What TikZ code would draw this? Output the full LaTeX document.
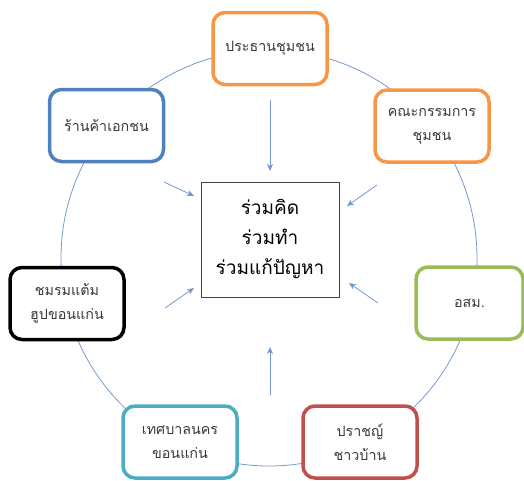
\documentclass[tikz,border=0pt]{standalone}
\usepackage{fontspec}
\newfontfamily\thaifont[Script=Thai]{Loma}
\usetikzlibrary{arrows.meta}
\definecolor{ringblue}{HTML}{7399CF}
\definecolor{presorange}{HTML}{F79646}
\definecolor{shopblue}{HTML}{4F81BD}
\definecolor{vhvgreen}{HTML}{9BBB59}
\definecolor{cityteal}{HTML}{4BACC6}
\definecolor{sagered}{HTML}{C0504D}
\definecolor{textgray}{HTML}{3A3A3A}
\begin{document}
\begin{tikzpicture}[x=1pt, y=-1pt, font=\thaifont\fontsize{14.3}{24}\selectfont]
            % กล่องสมาชิกรอบวง (ขอบมนสีต่าง ๆ)
            \tikzstyle{member}=[draw, rounded corners=12pt, line width=3.5pt, fill=white, text=textgray,
                                minimum width=114pt, minimum height=72pt, align=center, inner sep=2pt]
            % กล่องกลาง
            \tikzstyle{hub}=[draw=black!75, line width=0.9pt, fill=white, minimum width=138pt, minimum height=115pt,
                             align=center, font=\thaifont\fontsize{19}{30}\selectfont]
            % ลูกศรเล็กชี้เข้ากลาง
            \tikzstyle{arr}=[ringblue, line width=0.8pt, -{Stealth[length=7pt,width=6pt,inset=2pt]}]

            \useasboundingbox (0,0) rectangle (524,480);

            % วงกลมเชื่อมทุกกล่อง
            \draw[ringblue, line width=0.8pt] (269,258) circle[radius=208pt];

            % กล่องกลาง
            \node[hub] (hub) at (270,239.5) {ร่วมคิด\\ร่วมทำ\\ร่วมแก้ปัญหา};

            % กล่องรอบวง
            \node[member, draw=presorange] (pres) at (270,48.5) {ประธานชุมชน};
            \node[member, draw=presorange] (committee) at (432,126) {คณะกรรมการ\\ชุมชน};
            \node[member, draw=shopblue] (shop) at (106.5,125.5) {ร้านค้าเอกชน};
            \node[member, draw=black] (club) at (67,303.5) {ชมรมแต้ม\\ฮูปขอนแก่น};
            \node[member, draw=vhvgreen, minimum width=107pt] (vhv) at (469.5,303) {อสม.};
            \node[member, draw=cityteal] (city) at (180,442) {เทศบาลนคร\\ขอนแก่น};
            \node[member, draw=sagered] (sage) at (360,442) {ปราชญ์\\ชาวบ้าน};

            % จุดปลายลูกศร
            \coordinate (top-s) at (270,100);  \coordinate (top-e) at (270,171);
            \coordinate (ul-s) at (164,182);   \coordinate (ul-e) at (194,196);
            \coordinate (ur-s) at (377,185);   \coordinate (ur-e) at (347,206);
            \coordinate (ll-s) at (165,308);   \coordinate (ll-e) at (194,288);
            \coordinate (lr-s) at (378,303);   \coordinate (lr-e) at (349,283);
            \coordinate (bot-s) at (270,395);  \coordinate (bot-e) at (270,347);

            \draw[arr] (top-s) -- (top-e);
            \draw[arr] (ul-s) -- (ul-e);
            \draw[arr] (ur-s) -- (ur-e);
            \draw[arr] (ll-s) -- (ll-e);
            \draw[arr] (lr-s) -- (lr-e);
            \draw[arr] (bot-s) -- (bot-e);
\end{tikzpicture}
\end{document}
